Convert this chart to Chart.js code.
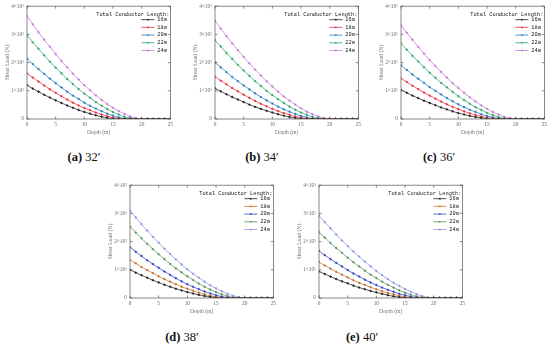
<!DOCTYPE html>
<html>
<head>
<meta charset="utf-8">
<script src="https://cdn.jsdelivr.net/npm/chart.js@4.4.0/dist/chart.umd.min.js"></script>
<style>
  html, body { margin: 0; padding: 0; background: #fff; width: 550px; height: 346px; overflow: hidden; }
  .panel { position: absolute; }
  .cap { position: absolute; font-family: "Liberation Serif", serif; font-size: 12.5px; line-height: 14px; color: #111; transform: translateX(-50%); white-space: nowrap; }
</style>
</head>
<body>
<div class="panel" style="left:0px;top:0px"><canvas id="c32" width="175" height="136"></canvas></div>
<div class="panel" style="left:188px;top:0px"><canvas id="c34" width="175" height="136"></canvas></div>
<div class="panel" style="left:374px;top:0px"><canvas id="c36" width="175" height="136"></canvas></div>
<div class="panel" style="left:103px;top:179px"><canvas id="c38" width="175" height="136"></canvas></div>
<div class="panel" style="left:292px;top:179px"><canvas id="c40" width="175" height="136"></canvas></div>

<div class="cap" style="left:84px;top:150px"><b>(a)</b> 32′</div>
<div class="cap" style="left:262px;top:150px"><b>(b)</b> 34′</div>
<div class="cap" style="left:439px;top:150px"><b>(c)</b> 36′</div>
<div class="cap" style="left:182px;top:330px"><b>(d)</b> 38′</div>
<div class="cap" style="left:362px;top:330px"><b>(e)</b> 40′</div>

<script>
// depth (m) and conductor lengths
const depths = [0,1,2,3,4,5,6,7,8,9,10,11,12,13,14,15,16,17,18,19,20,21,22,23,24,25];
const lengths = ["16m", "18m", "20m", "22m", "24m"];
const yTickLabels = ["0", "1×10⁵", "2×10⁵", "3×10⁵", "4×10⁵"];
const legendTitle = "Total Conductor Length:";

// shear load, in units of 1e5 N, one row per conductor length
const shear32 = [
  [1.20,1.08,0.97,0.86,0.76,0.66,0.57,0.48,0.40,0.32,0.25,0.19,0.13,0.08,0.04,0.01,0,0,0,0,0,0,0,0,0,0],
  [1.62,1.47,1.33,1.19,1.05,0.93,0.81,0.69,0.58,0.48,0.39,0.31,0.23,0.16,0.10,0.05,0.02,0,0,0,0,0,0,0,0,0],
  [2.14,1.95,1.77,1.60,1.43,1.27,1.12,0.97,0.83,0.71,0.58,0.47,0.37,0.28,0.19,0.12,0.06,0.02,0,0,0,0,0,0,0,0],
  [2.97,2.72,2.49,2.26,2.03,1.82,1.62,1.42,1.24,1.06,0.90,0.75,0.60,0.47,0.35,0.25,0.16,0.08,0.03,0,0,0,0,0,0,0],
  [3.65,3.36,3.08,2.81,2.56,2.30,2.06,1.83,1.61,1.40,1.20,1.02,0.84,0.68,0.53,0.40,0.28,0.18,0.09,0.03,0,0,0,0,0,0]
];
const shear34 = [
  [1.09,0.98,0.88,0.78,0.69,0.60,0.51,0.43,0.36,0.29,0.23,0.17,0.12,0.07,0.04,0.01,0,0,0,0,0,0,0,0,0,0],
  [1.50,1.36,1.23,1.10,0.98,0.86,0.75,0.64,0.54,0.45,0.36,0.28,0.21,0.15,0.09,0.05,0.02,0,0,0,0,0,0,0,0,0],
  [2.00,1.83,1.66,1.49,1.34,1.19,1.05,0.91,0.78,0.66,0.55,0.44,0.34,0.26,0.18,0.11,0.06,0.02,0,0,0,0,0,0,0,0],
  [2.80,2.57,2.34,2.13,1.92,1.72,1.53,1.34,1.17,1.00,0.85,0.70,0.57,0.44,0.33,0.23,0.15,0.08,0.03,0,0,0,0,0,0,0],
  [3.48,3.21,2.94,2.68,2.44,2.20,1.97,1.75,1.54,1.34,1.15,0.97,0.80,0.65,0.51,0.38,0.26,0.17,0.09,0.03,0,0,0,0,0,0]
];
const shear36 = [
  [1.03,0.93,0.83,0.74,0.65,0.57,0.49,0.41,0.34,0.27,0.21,0.16,0.11,0.07,0.04,0.01,0,0,0,0,0,0,0,0,0,0],
  [1.44,1.31,1.18,1.06,0.94,0.83,0.72,0.62,0.52,0.43,0.35,0.27,0.20,0.14,0.09,0.05,0.02,0,0,0,0,0,0,0,0,0],
  [1.91,1.74,1.58,1.43,1.28,1.13,1.00,0.87,0.74,0.63,0.52,0.42,0.33,0.25,0.17,0.11,0.06,0.02,0,0,0,0,0,0,0,0],
  [2.68,2.46,2.24,2.04,1.84,1.64,1.46,1.28,1.12,0.96,0.81,0.67,0.54,0.42,0.32,0.22,0.14,0.07,0.02,0,0,0,0,0,0,0],
  [3.32,3.06,2.81,2.56,2.32,2.09,1.88,1.67,1.47,1.27,1.10,0.93,0.77,0.62,0.48,0.36,0.25,0.16,0.08,0.03,0,0,0,0,0,0]
];
const shear38 = [
  [1.00,0.90,0.81,0.72,0.63,0.55,0.47,0.40,0.33,0.27,0.21,0.16,0.11,0.07,0.04,0.01,0,0,0,0,0,0,0,0,0,0],
  [1.35,1.23,1.10,0.99,0.88,0.77,0.67,0.58,0.49,0.40,0.33,0.26,0.19,0.13,0.08,0.04,0.01,0,0,0,0,0,0,0,0,0],
  [1.80,1.64,1.49,1.34,1.20,1.07,0.94,0.82,0.70,0.59,0.49,0.40,0.31,0.23,0.16,0.10,0.05,0.02,0,0,0,0,0,0,0,0],
  [2.53,2.32,2.12,1.92,1.73,1.55,1.38,1.21,1.05,0.91,0.77,0.64,0.51,0.40,0.30,0.21,0.13,0.07,0.02,0,0,0,0,0,0,0],
  [3.10,2.86,2.62,2.39,2.17,1.96,1.75,1.56,1.37,1.19,1.02,0.86,0.72,0.58,0.45,0.34,0.24,0.15,0.08,0.03,0,0,0,0,0,0]
];
const shear40 = [
  [0.94,0.85,0.76,0.67,0.59,0.52,0.44,0.37,0.31,0.25,0.20,0.15,0.10,0.06,0.03,0.01,0,0,0,0,0,0,0,0,0,0],
  [1.27,1.15,1.04,0.93,0.83,0.73,0.63,0.54,0.46,0.38,0.31,0.24,0.18,0.13,0.08,0.04,0.01,0,0,0,0,0,0,0,0,0],
  [1.67,1.52,1.38,1.25,1.12,0.99,0.87,0.76,0.65,0.55,0.46,0.37,0.29,0.22,0.15,0.10,0.05,0.02,0,0,0,0,0,0,0,0],
  [2.33,2.14,1.95,1.77,1.60,1.43,1.27,1.12,0.97,0.83,0.71,0.58,0.47,0.37,0.27,0.19,0.12,0.06,0.02,0,0,0,0,0,0,0],
  [2.92,2.69,2.47,2.25,2.04,1.84,1.65,1.47,1.29,1.12,0.96,0.81,0.67,0.54,0.43,0.32,0.22,0.14,0.07,0.02,0,0,0,0,0,0]
];

const colorsTop = ["#222222", "#e8333f", "#2b7cbc", "#2fa86c", "#c57ad8"];
const colorsBottom = ["#222222", "#c8742e", "#3242c4", "#5e9460", "#9494e6"];

// legend drawn inside the plot, top right
const insideLegend = {
  id: "insideLegend",
  afterDatasetsDraw(chart) {
    const ctx = chart.ctx;
    const a = chart.chartArea;
    ctx.save();
    ctx.font = '5.3px "Liberation Mono", monospace';
    ctx.fillStyle = "#111";
    ctx.textAlign = "right";
    ctx.textBaseline = "middle";
    ctx.fillText(legendTitle, a.right - 1, a.top + 8);
    chart.data.datasets.forEach(function (ds, i) {
      const y = a.top + 13.5 + i * 7.7;
      ctx.strokeStyle = ds.borderColor;
      ctx.lineWidth = 0.8;
      ctx.beginPath();
      ctx.moveTo(a.right - 29, y);
      ctx.lineTo(a.right - 16, y);
      ctx.stroke();
      ctx.fillStyle = ds.borderColor;
      ctx.beginPath();
      ctx.arc(a.right - 22.5, y, 0.9, 0, Math.PI * 2);
      ctx.fill();
      ctx.fillStyle = "#111";
      ctx.textAlign = "left";
      ctx.fillText(ds.label, a.right - 13, y);
    });
    ctx.restore();
  }
};

// full box with inward tick marks on all four sides
const frameTicks = {
  id: "frameTicks",
  afterDraw(chart) {
    const ctx = chart.ctx;
    const a = chart.chartArea;
    const xs = chart.scales.x;
    const ys = chart.scales.y;
    ctx.save();
    ctx.strokeStyle = "#555";
    ctx.lineWidth = 0.7;
    ctx.strokeRect(a.left, a.top, a.right - a.left, a.bottom - a.top);
    ctx.beginPath();
    xs.ticks.forEach(function (t) {
      const px = xs.getPixelForValue(t.value);
      ctx.moveTo(px, a.bottom); ctx.lineTo(px, a.bottom - 2.5);
      ctx.moveTo(px, a.top); ctx.lineTo(px, a.top + 2.5);
    });
    ys.ticks.forEach(function (t) {
      const py = ys.getPixelForValue(t.value);
      ctx.moveTo(a.left, py); ctx.lineTo(a.left + 2.5, py);
      ctx.moveTo(a.right, py); ctx.lineTo(a.right - 2.5, py);
    });
    ctx.stroke();
    ctx.restore();
  }
};

function makeChart(id, rows, colors) {
  const datasets = rows.map(function (vals, i) {
    return {
      label: lengths[i],
      data: depths.map(function (d, j) { return { x: d, y: vals[j] }; }),
      borderColor: colors[i],
      backgroundColor: colors[i],
      borderWidth: 0.8,
      pointRadius: 0.8,
      pointHoverRadius: 0,
      tension: 0.3
    };
  });
  const tickFont = { family: '"Liberation Serif", serif', size: 5.3 };
  return new Chart(document.getElementById(id), {
    type: "line",
    data: { datasets: datasets },
    options: {
      responsive: false,
      animation: false,
      layout: { padding: { top: 3, right: 4, left: 0, bottom: 0 } },
      plugins: { legend: { display: false }, tooltip: { enabled: false } },
      scales: {
        x: {
          type: "linear",
          min: 0, max: 25,
          afterFit: function (s) { s.height = 17; },
          grid: { display: false, drawTicks: false },
          border: { display: false },
          ticks: { stepSize: 5, padding: 2, color: "#666", font: tickFont, maxRotation: 0 },
          title: { display: true, text: "Depth (m)", color: "#777", padding: 0, font: { family: '"Liberation Serif", serif', size: 5.6 } }
        },
        y: {
          min: 0, max: 4,
          afterFit: function (s) { s.width = 27; },
          grid: { display: false, drawTicks: false },
          border: { display: false },
          ticks: {
            stepSize: 1, padding: 3, color: "#666", font: tickFont,
            callback: function (v) { return yTickLabels[v]; }
          },
          title: { display: true, text: "Shear Load (N)", color: "#777", padding: { top: 4, bottom: 0 }, font: { family: '"Liberation Serif", serif', size: 5.8 } }
        }
      }
    },
    plugins: [frameTicks, insideLegend]
  });
}

makeChart("c32", shear32, colorsTop);
makeChart("c34", shear34, colorsTop);
makeChart("c36", shear36, colorsTop);
makeChart("c38", shear38, colorsBottom);
makeChart("c40", shear40, colorsBottom);
</script>
</body>
</html>
